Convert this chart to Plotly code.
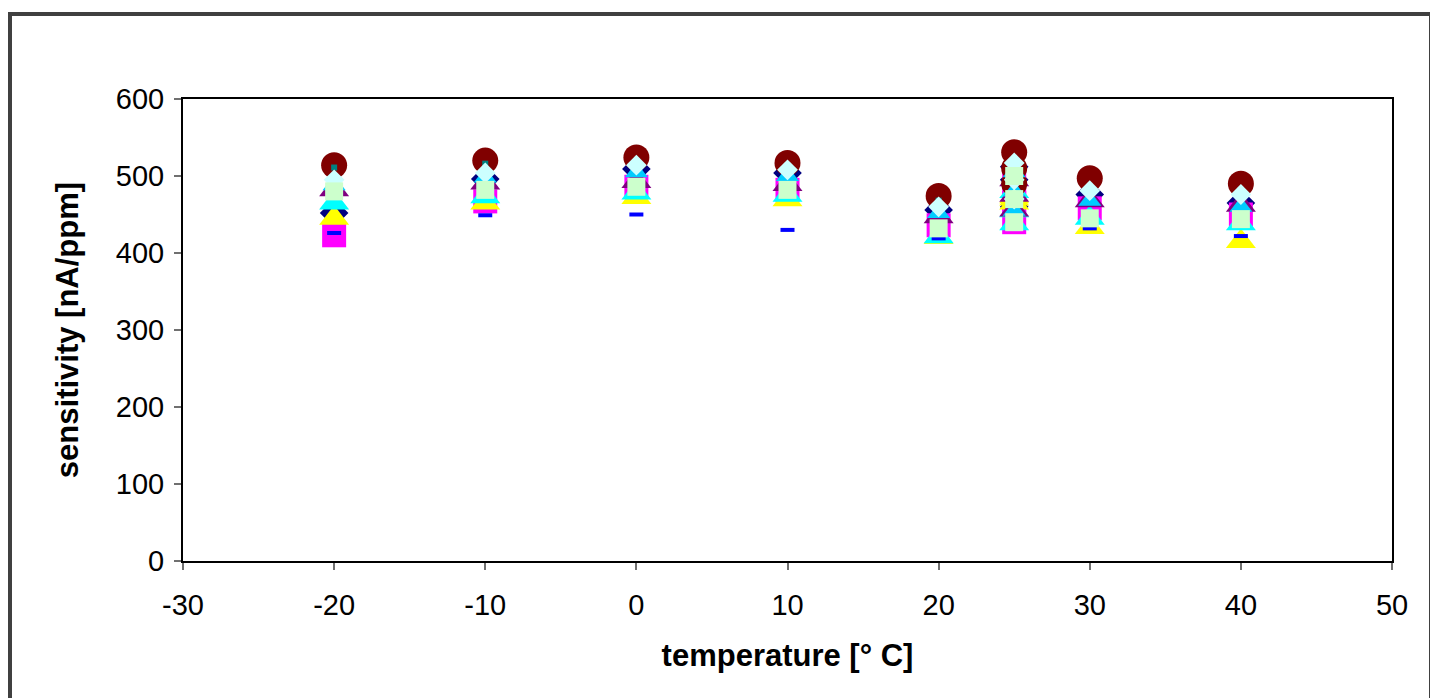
import plotly.graph_objects as go

temperature = [-20, -10, 0, 10, 20, 25, 25, 25, 30, 40]

s_navy = [452, 496, 509, 504, 456, 512, 495, 460, 476, 465]
s_magenta = [423, 467, 486, 482, 436, 490, 465, 440, 458, 450]
s_yellow = [445, 465, 472, 469, 420, 473, 470, 465, 433, 415]
s_cyan = [465, 473, 478, 475, 421, 480, 455, 438, 445, 438]
s_purple = [482, 491, 493, 489, 447, 495, 475, 456, 468, 462]
s_darkred = [514, 520, 524, 517, 474, 531, 510, 490, 497, 490]
s_teal = [511, 516, 518, 511, 468, 505, 490, 470, 479, 470]
s_blue = [426, 449, 450, 430, 419, 433, 433, 433, 432, 422]
s_skyblue = [488, 498, 505, 500, 452, 505, 480, 455, 468, 460]
s_lightturq = [495, 504, 514, 508, 460, 517, 495, 470, 481, 476]
s_lightgreen = [480, 482, 486, 482, 432, 500, 470, 440, 445, 444]

x_tickvals = [-30, -20, -10, 0, 10, 20, 30, 40, 50]
x_ticktext = ["-30", "-20", "-10", "0", "10", "20", "30", "40", "50"]
y_tickvals = [0, 100, 200, 300, 400, 500, 600]

series = [
    ("navy", s_navy, "#000080", "diamond", 22),
    ("magenta", s_magenta, "#FF00FF", "square", 24),
    ("yellow", s_yellow, "#FFFF00", "triangle-up", 26),
    ("cyan", s_cyan, "#00FFFF", "triangle-up", 26),
    ("purple", s_purple, "#800080", "triangle-up", 26),
    ("darkred", s_darkred, "#800000", "circle", 26),
    ("teal", s_teal, "#008080", "square", 6),
    ("blue", s_blue, "#0000FF", "line-ew", 10),
    ("skyblue", s_skyblue, "#00CCFF", "triangle-up", 20),
    ("lightturq", s_lightturq, "#CCFFFF", "diamond", 16),
    ("lightgreen", s_lightgreen, "#CCFFCC", "square", 18),
]

fig = go.Figure()
for name, vals, color, sym, size in series:
    if sym == "line-ew":
        marker = dict(symbol=sym, size=size, color=color,
                      line=dict(color=color, width=4))
    else:
        marker = dict(symbol=sym, size=size, color=color, line=dict(width=0))
    fig.add_trace(go.Scatter(x=temperature, y=vals, mode="markers", name=name,
                             marker=marker, showlegend=False))

font_fam = "Arial, Liberation Sans, sans-serif"
fig.update_layout(
    width=1430, height=690,
    margin=dict(l=175, r=46, t=91, b=137),
    paper_bgcolor="white", plot_bgcolor="white",
    font=dict(family=font_fam, color="black", size=29),
    xaxis=dict(range=[-30, 50], tickvals=x_tickvals, ticktext=x_ticktext,
               showgrid=False, zeroline=False,
               showline=True, linecolor="black", linewidth=2, mirror=True,
               ticks="outside", ticklen=7, tickwidth=2, tickcolor="#707070",
               tickfont=dict(size=29), ticklabelstandoff=10,
               title=dict(text="<b>temperature [° C]</b>", font=dict(size=31), standoff=25)),
    yaxis=dict(range=[0, 600], tickvals=y_tickvals, showgrid=False, zeroline=False,
               showline=True, linecolor="black", linewidth=2, mirror=True,
               ticks="outside", ticklen=7, tickwidth=2, tickcolor="#707070",
               tickfont=dict(size=29), ticklabelstandoff=4,
               title=dict(text="<b>sensitivity [nA/ppm]</b>", font=dict(size=31), standoff=28)),
    shapes=[dict(type="rect", xref="paper", yref="paper",
                 x0=(10 - 183) / 1209, x1=(1431 - 183) / 1209,
                 y0=(561 - 720) / 462, y1=(561 - 14) / 462,
                 line=dict(color="#404040", width=4), fillcolor="rgba(0,0,0,0)",
                 layer="below")],
)

fig.write_html("out.html")
